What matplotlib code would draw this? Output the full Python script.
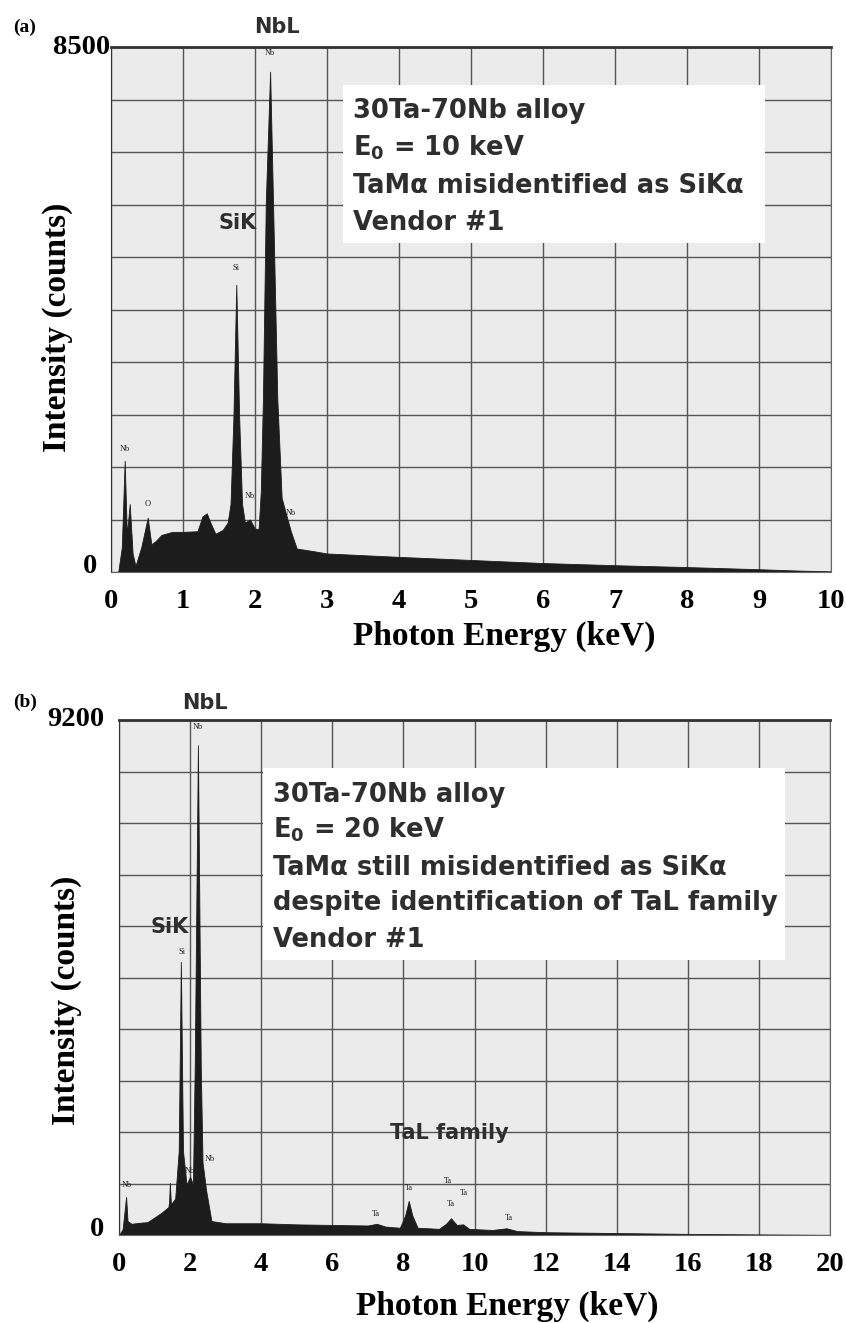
# EDS spectra of a 30Ta-70Nb alloy, vendor #1 peak identification
# (a) E0 = 10 keV, (b) E0 = 20 keV

import matplotlib.pyplot as plt
from matplotlib.patches import Rectangle

plt.rcParams['mathtext.fontset'] = 'custom'
plt.rcParams['mathtext.rm'] = 'DejaVu Sans:bold'
plt.rcParams['mathtext.it'] = 'DejaVu Sans:bold'
plt.rcParams['mathtext.bf'] = 'DejaVu Sans:bold'

# ---- panel (a) spectrum (keV, counts)
energy_a = [0.00, 0.10, 0.15, 0.19, 0.22, 0.26, 0.30, 0.34, 0.42, 0.51, 0.56,
            0.62, 0.70, 0.85, 1.00, 1.20, 1.27, 1.33, 1.38, 1.45, 1.55, 1.62,
            1.66, 1.70, 1.74, 1.78, 1.82, 1.86, 1.93, 2.00, 2.05, 2.08, 2.11,
            2.15, 2.21, 2.25, 2.31, 2.37, 2.44, 2.50, 2.58, 2.80, 3.00, 4.00,
            5.00, 6.00, 7.00, 8.00, 9.00, 9.50, 10.00]
counts_a = [0, 0, 400, 1800, 600, 1100, 300, 100, 400, 880, 450,
            500, 600, 650, 650, 660, 900, 950, 800, 620, 680, 800,
            1100, 2500, 4650, 2500, 1100, 800, 850, 700, 700, 1300, 2800,
            6000, 8100, 6000, 2800, 1200, 900, 650, 380, 340, 300, 245,
            195, 145, 110, 80, 45, 25, 10]

# ---- panel (b) spectrum
energy_b = [0.00, 0.10, 0.20, 0.24, 0.35, 0.60, 0.80, 1.18, 1.39, 1.41, 1.43,
            1.46, 1.58, 1.68, 1.74, 1.80, 1.90, 2.00, 2.08, 2.13, 2.22, 2.30,
            2.35, 2.45, 2.60, 3.00, 4.00, 5.00, 6.00, 7.00, 7.25, 7.50, 7.90,
            8.05, 8.15, 8.25, 8.40, 9.00, 9.20, 9.34, 9.50, 9.68, 9.85, 10.50,
            10.90, 11.20, 12.00, 14.00, 16.00, 18.00, 20.00]
counts_b = [0, 100, 680, 250, 200, 220, 230, 390, 500, 600, 930,
            550, 650, 1500, 4880, 1500, 900, 1040, 900, 3000, 8750, 3000,
            1300, 800, 250, 210, 210, 190, 180, 170, 200, 150, 130,
            350, 610, 350, 130, 110, 200, 300, 180, 190, 110, 90,
            120, 70, 50, 35, 20, 10, 0]

# small peak markers (label, keV, counts)
marks_a = [('Nb', 0.19, 1925), ('O', 0.51, 1036), ('Si', 1.74, 4860),
           ('Nb', 1.93, 1165), ('Nb', 2.21, 8340), ('Nb', 2.49, 890)]
marks_b = [('Nb', 0.22, 820), ('Si', 1.77, 4980), ('Nb', 2.00, 1070),
           ('Nb', 2.22, 9000), ('Nb', 2.54, 1290), ('Ta', 7.23, 300),
           ('Ta', 8.16, 770), ('Ta', 9.25, 890), ('Ta', 9.70, 680),
           ('Ta', 9.34, 480), ('Ta', 10.97, 230)]

ticks_a = [0, 1, 2, 3, 4, 5, 6, 7, 8, 9, 10]
ticks_b = [0, 2, 4, 6, 8, 10, 12, 14, 16, 18, 20]
ymax_a = 8500
ymax_b = 9200

lines_a = ['30Ta-70Nb alloy', 'E$_0$ = 10 keV',
           'TaM\u03b1 misidentified as SiK\u03b1', 'Vendor #1']
lines_b = ['30Ta-70Nb alloy', 'E$_0$ = 20 keV',
           'TaM\u03b1 still misidentified as SiK\u03b1',
           'despite identification of TaL family', 'Vendor #1']

serif = 'Liberation Serif'
sans = 'DejaVu Sans'
txt_col = '#2e2e2e'

W, H = 846, 1323
fig = plt.figure(figsize=(W/100, H/100), dpi=100)
ax_a = fig.add_axes([111/W, 1-572/H, 720/W, 525/H])
ax_b = fig.add_axes([119/W, 1-1235/H, 711/W, 515/H])


def draw_panel(ax, energy, counts, ticks, ymax, marks):
    ax.set_facecolor('#ebebeb')
    ax.fill_between(energy, counts, 0, color='#1c1c1c', lw=0.6, zorder=2)
    ax.set_xlim(ticks[0], ticks[-1])
    ax.set_ylim(0, ymax)
    ax.set_xticks(ticks)
    ax.set_xticklabels([str(t) for t in ticks], fontfamily=serif,
                       fontweight='bold', fontsize=20.5)
    ax.set_yticks([ymax * i / 10 for i in range(11)])
    ax.set_yticklabels([])
    ax.tick_params(length=0)
    ax.tick_params(axis='x', pad=12)
    ax.grid(True, color='#555555', lw=1.0)
    ax.set_axisbelow(True)
    for s in ax.spines.values():
        s.set_color('#666666')
    ax.spines['top'].set_linewidth(2.0)
    ax.spines['top'].set_color('#333333')
    ax.spines['left'].set_color('#333333')
    ax.set_xlabel('Photon Energy (keV)', fontfamily=serif, fontweight='bold',
                  fontsize=24)
    ax.set_ylabel('Intensity (counts)', fontfamily=serif, fontweight='bold',
                  fontsize=24)
    for lab, e, c in marks:
        ax.text(e, c, lab, fontfamily=serif, fontsize=6, ha='center',
                va='bottom', color='#222222', zorder=3)


def info_box(ax, lines, x0, x1, y0, y1, tx, bases):
    ax.add_patch(Rectangle((x0, y0), x1 - x0, y1 - y0, transform=ax.transAxes,
                           fc='white', ec='none', zorder=3))
    for line, yb in zip(lines, bases):
        ax.text(tx, yb, line, transform=ax.transAxes, fontfamily=sans,
                fontweight='bold', fontsize=18.5, color=txt_col, ha='left',
                va='baseline', zorder=4)


draw_panel(ax_a, energy_a, counts_a, ticks_a, ymax_a, marks_a)
draw_panel(ax_b, energy_b, counts_b, ticks_b, ymax_b, marks_b)

ax_a.xaxis.set_label_coords(0.546, -0.092)
ax_b.xaxis.set_label_coords(0.546, -0.108)
ax_a.yaxis.set_label_coords(-0.053, 0.467)
ax_b.yaxis.set_label_coords(-0.052, 0.456)

# y end labels placed like the original
def ylab(x_right, y_mid, s):
    fig.text(x_right/W, 1-y_mid/H, s, fontfamily=serif, fontweight='bold',
             fontsize=20.5, ha='right', va='center')

ylab(110, 47, str(ymax_a))
ylab(97, 566, '0')
ylab(104, 719, str(ymax_b))
ylab(104, 1229, '0')

# line labels
ax_a.text(2.31, 8820, 'NbL', fontfamily=sans, fontweight='bold', fontsize=15,
          color=txt_col, ha='center', va='center', clip_on=False)
ax_a.text(1.76, 5650, 'SiK', fontfamily=sans, fontweight='bold', fontsize=15,
          color=txt_col, ha='center', va='center', zorder=3)
ax_b.text(2.42, 9500, 'NbL', fontfamily=sans, fontweight='bold', fontsize=15,
          color=txt_col, ha='center', va='center', clip_on=False)
ax_b.text(1.43, 5500, 'SiK', fontfamily=sans, fontweight='bold', fontsize=15,
          color=txt_col, ha='center', va='center', zorder=3)
ax_b.text(9.28, 1820, 'TaL family', fontfamily=sans, fontweight='bold',
          fontsize=15, color=txt_col, ha='center', va='center', zorder=3)

# info boxes
info_box(ax_a, lines_a, 0.322, 0.908, 0.627, 0.928, 0.336,
         [0.865, 0.794, 0.722, 0.651])
info_box(ax_b, lines_b, 0.2025, 0.937, 0.534, 0.907, 0.2166,
         [0.841, 0.771, 0.699, 0.631, 0.559])

fig.text(13/W, 1-27/H, '(a)', fontfamily=serif, fontweight='bold',
         fontsize=14, va='center')
fig.text(13/W, 1-702/H, '(b)', fontfamily=serif, fontweight='bold',
         fontsize=14, va='center')

fig.savefig('out.png', dpi=100)
